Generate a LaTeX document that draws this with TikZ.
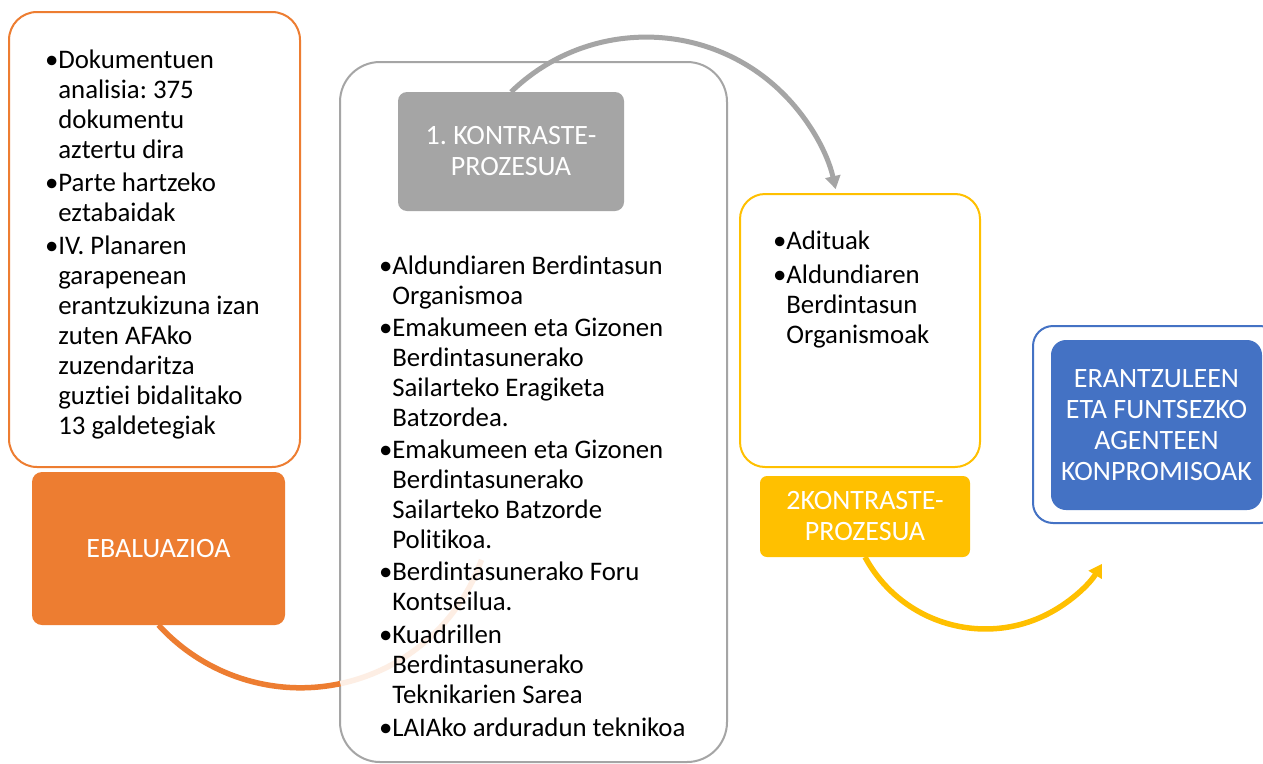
\documentclass[tikz,border=0pt]{standalone}
\usepackage{fontspec}
\setmainfont[Ligatures=NoCommon]{Carlito}
\usetikzlibrary{arrows.meta}
\definecolor{cOrange}{HTML}{ED7D31}
\definecolor{cGray}{HTML}{A5A5A5}
\definecolor{cYellow}{HTML}{FFC000}
\definecolor{cBlue}{HTML}{4472C4}
\newcommand{\hb}{\phantom{•}}
\frenchspacing
\begin{document}
\begin{tikzpicture}[x=1pt,y=-1pt,
  every node/.style={inner sep=0pt,outer sep=0pt},
  boxframe/.style={draw=#1,line width=2pt,fill=white},
  boxtag/.style={fill=#1,text=white,align=center,font=\fontsize{28}{31}\selectfont},
  listtext/.style={anchor=north west,align=left,font=\fontsize{26.8}{30}\selectfont},
  flowline/.style={line width=5.5pt,draw=#1}]
\useasboundingbox[fill=white] (0,0) rectangle (1263,763);
% frames
\node[boxframe=cOrange,rounded corners=28pt,minimum width=291pt,minimum height=455pt] (evalframe) at (154.5,239.5) {};
\node[boxframe=cGray,rounded corners=40pt,minimum width=387pt,minimum height=700pt] (k1frame) at (533.5,412) {};
\node[boxframe=cYellow,rounded corners=25pt,minimum width=240pt,minimum height=273pt] (k2frame) at (860,330.5) {};
\node[boxframe=cBlue,rounded corners=20pt,minimum width=247pt,minimum height=197pt] (endframe) at (1156.5,424.5) {};
% tags
\node[boxtag=cOrange,rounded corners=10pt,minimum width=253pt,minimum height=153pt] (ebal) at (158.5,548.5) {EBALUAZIOA};
\node[boxtag=cGray,rounded corners=9pt,minimum width=226pt,minimum height=119pt] (k1) at (511,151.5) {1. KONTRASTE-\\PROZESUA};
\node[boxtag=cYellow,rounded corners=7pt,minimum width=210pt,minimum height=81pt] (k2) at (865,516.5) {2KONTRASTE-\\PROZESUA};
\node[boxtag=cBlue,rounded corners=15pt,minimum width=211pt,minimum height=170pt] (agents) at (1156.5,425) {ERANTZULEEN\\ETA FUNTSEZKO\\AGENTEEN\\KONPROMISOAK};
% connectors
\draw[flowline=cOrange] (ebal.south) arc[start angle=137.7,end angle=78,radius=192] coordinate (ocross);
\draw[flowline=cOrange!13] (ocross) arc[start angle=78,end angle=19.5,radius=192];
\draw[flowline=cGray,line width=5pt,-{Triangle[length=13pt,width=15pt]}] (k1.north) arc[start angle=-134.2,end angle=-12.5,radius=194];
\draw[flowline=cYellow,-{Triangle[length=13pt,width=15pt]}] (k2.south) arc[start angle=151.7,end angle=31.6,radius=136.8];
% lists
\node[listtext] (evallist) at (45,50) {•Dokumentuen\\\hb analisia: 375\\\hb dokumentu\\\hb aztertu dira\\[3pt]
•Parte hartzeko\\\hb eztabaidak\\[3pt]
•IV. Planaren\\\hb garapenean\\\hb erantzukizuna izan\\\hb zuten AFAko\\\hb zuzendaritza\\\hb guztiei bidalitako\\\hb 13 galdetegiak};
\node[listtext] (k1list) at (379,256) {•Aldundiaren Berdintasun\\\hb Organismoa\\[2pt]
•Emakumeen eta Gizonen\\\hb Berdintasunerako\\\hb Sailarteko Eragiketa\\\hb Batzordea.\\[2pt]
•Emakumeen eta Gizonen\\\hb Berdintasunerako\\\hb Sailarteko Batzorde\\\hb Politikoa.\\[2pt]
•Berdintasunerako Foru\\\hb Kontseilua.\\[3pt]
•Kuadrillen\\\hb Berdintasunerako\\\hb Teknikarien Sarea\\[3pt]
•LAIAko arduradun teknikoa};
\node[listtext] (k2list) at (773,231) {•Adituak\\[4pt]
•Aldundiaren\\\hb Berdintasun\\\hb Organismoak};
\end{tikzpicture}
\end{document}
